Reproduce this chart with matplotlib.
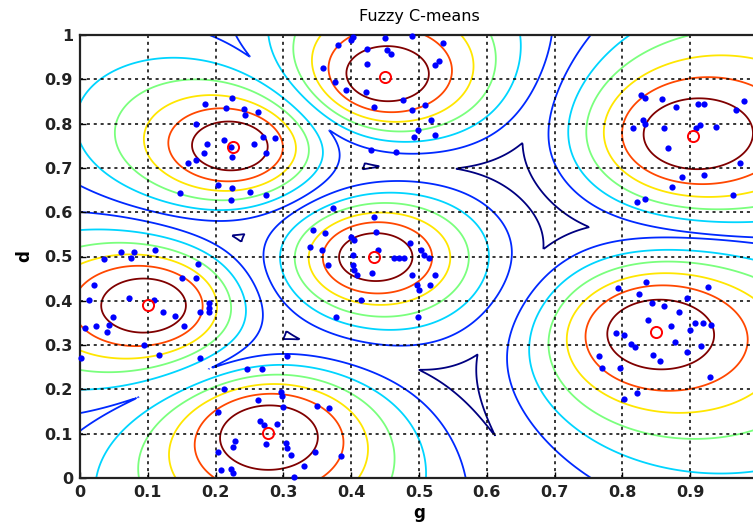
import numpy as np
import matplotlib
matplotlib.use("Agg")
import matplotlib.pyplot as plt

# cluster centres (read from red circles)
centers_x = [0.100, 0.226, 0.450, 0.434, 0.278, 0.850, 0.904]
centers_y = [0.390, 0.748, 0.906, 0.500, 0.101, 0.330, 0.772]

# data points (blue dots), read per cluster
pts = [
    # cluster around (0.10, 0.39)
    (0.061, 0.511), (0.079, 0.511), (0.075, 0.497), (0.036, 0.494), (0.110, 0.515),
    (0.174, 0.482), (0.150, 0.451), (0.171, 0.451), (0.020, 0.436), (0.013, 0.402),
    (0.073, 0.406), (0.109, 0.402), (0.122, 0.375), (0.140, 0.366), (0.190, 0.394),
    (0.190, 0.383), (0.190, 0.374), (0.177, 0.375), (0.049, 0.364), (0.043, 0.345),
    (0.023, 0.342), (0.008, 0.338), (0.040, 0.330), (0.153, 0.342), (0.094, 0.300),
    (0.117, 0.278), (0.177, 0.270), (0.002, 0.270),
    # cluster around (0.226, 0.748)
    (0.224, 0.857), (0.184, 0.844), (0.215, 0.836), (0.242, 0.833), (0.263, 0.827),
    (0.244, 0.819), (0.171, 0.800), (0.187, 0.755), (0.183, 0.733), (0.213, 0.763),
    (0.222, 0.748), (0.224, 0.725), (0.256, 0.755), (0.270, 0.770), (0.288, 0.767),
    (0.274, 0.733), (0.171, 0.718), (0.159, 0.710), (0.203, 0.661), (0.224, 0.654),
    (0.147, 0.643), (0.251, 0.646), (0.274, 0.639), (0.223, 0.627),
    # cluster around (0.45, 0.906)
    (0.402, 0.995), (0.400, 0.989), (0.450, 0.993), (0.489, 0.998), (0.381, 0.977),
    (0.424, 0.968), (0.453, 0.966), (0.458, 0.957), (0.536, 0.981), (0.424, 0.934),
    (0.524, 0.932), (0.530, 0.942), (0.358, 0.925), (0.376, 0.895), (0.392, 0.876),
    (0.422, 0.872), (0.477, 0.853), (0.509, 0.842), (0.434, 0.838), (0.490, 0.831),
    (0.518, 0.808), (0.499, 0.786), (0.524, 0.774), (0.493, 0.770), (0.429, 0.740),
    (0.466, 0.737),
    # cluster around (0.434, 0.50)
    (0.373, 0.609), (0.433, 0.590), (0.343, 0.560), (0.362, 0.552), (0.400, 0.545),
    (0.436, 0.556), (0.404, 0.537), (0.339, 0.522), (0.357, 0.515), (0.402, 0.503),
    (0.439, 0.515), (0.486, 0.530), (0.503, 0.515), (0.508, 0.503), (0.515, 0.496),
    (0.463, 0.496), (0.470, 0.496), (0.478, 0.496), (0.366, 0.481), (0.402, 0.481),
    (0.404, 0.470), (0.409, 0.458), (0.431, 0.462), (0.489, 0.458), (0.497, 0.436),
    (0.500, 0.424), (0.524, 0.458), (0.516, 0.436), (0.414, 0.402), (0.377, 0.364),
    (0.499, 0.364),
    # cluster around (0.278, 0.101)
    (0.247, 0.246), (0.268, 0.246), (0.212, 0.201), (0.297, 0.195), (0.298, 0.184),
    (0.262, 0.176), (0.299, 0.161), (0.350, 0.163), (0.367, 0.159), (0.203, 0.150),
    (0.266, 0.129), (0.272, 0.120), (0.290, 0.123), (0.228, 0.084), (0.226, 0.071),
    (0.275, 0.076), (0.304, 0.080), (0.306, 0.067), (0.203, 0.058), (0.311, 0.052),
    (0.346, 0.058), (0.385, 0.050), (0.331, 0.026), (0.208, 0.018), (0.223, 0.020),
    (0.226, 0.011), (0.315, 0.003), (0.305, 0.275),
    # cluster around (0.85, 0.33)
    (0.793, 0.428), (0.835, 0.443), (0.824, 0.415), (0.926, 0.432), (0.895, 0.406),
    (0.843, 0.394), (0.862, 0.388), (0.884, 0.375), (0.838, 0.357), (0.907, 0.349),
    (0.919, 0.349), (0.931, 0.345), (0.871, 0.343), (0.900, 0.333), (0.790, 0.327),
    (0.802, 0.323), (0.878, 0.308), (0.812, 0.302), (0.819, 0.296), (0.916, 0.298),
    (0.895, 0.285), (0.765, 0.275), (0.845, 0.278), (0.855, 0.265), (0.770, 0.248),
    (0.796, 0.248), (0.929, 0.227), (0.822, 0.191), (0.802, 0.178),
    # cluster around (0.904, 0.772)
    (0.828, 0.865), (0.833, 0.857), (0.858, 0.855), (0.879, 0.838), (0.912, 0.844),
    (0.921, 0.844), (0.980, 0.852), (0.967, 0.831), (0.831, 0.808), (0.834, 0.800),
    (0.816, 0.789), (0.862, 0.789), (0.914, 0.797), (0.909, 0.789), (0.938, 0.793),
    (0.867, 0.746), (0.974, 0.710), (0.888, 0.680), (0.920, 0.684), (0.873, 0.658),
    (0.963, 0.639), (0.822, 0.624), (0.834, 0.629),
]
points_x = [p[0] for p in pts]
points_y = [p[1] for p in pts]

contour_levels = [0.29, 0.4, 0.5, 0.6, 0.7, 0.8, 0.9]
x_ticks = [0, 0.1, 0.2, 0.3, 0.4, 0.5, 0.6, 0.7, 0.8, 0.9, 1.0]
y_ticks = [0, 0.1, 0.2, 0.3, 0.4, 0.5, 0.6, 0.7, 0.8, 0.9, 1.0]
x_tick_labels = ["0", "0.1", "0.2", "0.3", "0.4", "0.5", "0.6", "0.7", "0.8", "0.9", ""]
y_tick_labels = ["0", "0.1", "0.2", "0.3", "0.4", "0.5", "0.6", "0.7", "0.8", "0.9", "1"]

# FCM max-membership surface (m = 2)
gx = np.linspace(0, 1, 501)
gy = np.linspace(0, 1, 501)
GX, GY = np.meshgrid(gx, gy)
cx = np.array(centers_x)[:, None, None]
cy = np.array(centers_y)[:, None, None]
d2 = (GX - cx) ** 2 + (GY - cy) ** 2 + 1e-12
inv = 1.0 / d2
U = inv / inv.sum(axis=0)
Z = U.max(axis=0)

fig = plt.figure(figsize=(7.53, 5.26), dpi=100)
ax = fig.add_axes([80 / 753, 48 / 526, 678 / 753, 443 / 526])

ax.contour(GX, GY, Z, levels=contour_levels, cmap="jet", vmin=0.3, vmax=0.9,
           linewidths=1.3, zorder=1)

for t in x_ticks:
    ax.axvline(t, color="black", linestyle=(0, (2, 2.5)), linewidth=1.1, zorder=2)
for t in y_ticks:
    ax.axhline(t, color="black", linestyle=(0, (2, 2.5)), linewidth=1.1, zorder=2)

ax.plot(points_x, points_y, "o", color=(0, 0, 1), markersize=4.5,
        markeredgewidth=0, zorder=3, clip_on=False)
ax.plot(centers_x, centers_y, "o", markerfacecolor="none", markeredgecolor="red",
        markersize=8, markeredgewidth=1.4, zorder=4)

ax.set_xlim(0, 1)
ax.set_ylim(0, 1)
ax.set_xticks(x_ticks)
ax.set_xticklabels(x_tick_labels)
ax.set_yticks(y_ticks)
ax.set_yticklabels(y_tick_labels)
ax.tick_params(direction="in", length=4, width=1, labelsize=11.5, colors="black", pad=5)
for lab in ax.get_xticklabels() + ax.get_yticklabels():
    lab.set_fontweight("bold")
    lab.set_color("#222222")
for s in ax.spines.values():
    s.set_linewidth(1.6)
    s.set_color("#222222")

ax.set_xlabel("g", fontsize=12, fontweight="bold", labelpad=3)
ax.set_ylabel("d", fontsize=12, fontweight="bold", labelpad=8)
ax.set_title("Fuzzy C-means", fontsize=11.5, pad=10)

fig.savefig("out.png", dpi=100)
